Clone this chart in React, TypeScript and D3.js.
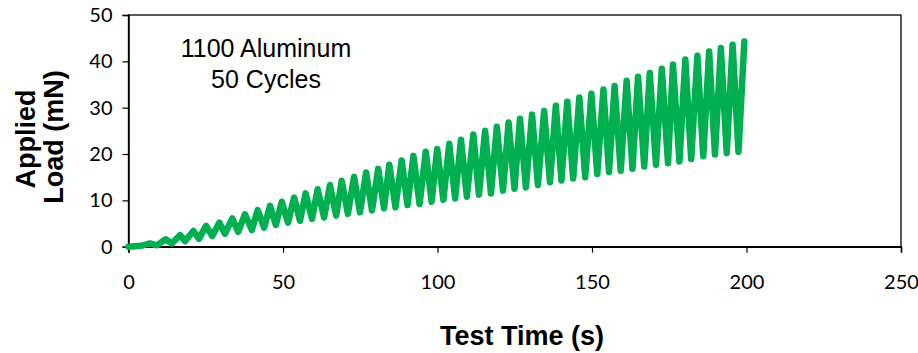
import { useRef, useEffect } from 'react';
import * as d3 from 'd3';

// lead-in before the first cycle
const leadTime = [0, 4.0];
const leadLoad = [0, 0.2];

// cycle peaks (s, mN)
const peakTime = [6.9, 12.0, 16.7, 21.0, 25.1, 29.4, 33.6, 37.7, 41.8, 45.8, 49.6, 53.6, 57.3, 61.2, 65.2, 69.0, 73.0, 76.9, 80.8, 84.4,
  88.4, 92.2, 96.2, 99.9, 103.8, 107.6, 111.6, 115.4, 119.2, 123.0, 126.7, 130.6, 134.5, 138.3, 142.0, 145.9, 149.8, 153.7, 157.3, 161.2,
  164.9, 168.7, 172.6, 176.2, 180.2, 184.1, 187.9, 191.7, 195.5, 199.3];
const peakLoad = [0.7, 1.6, 2.5, 3.4, 4.5, 5.2, 6.1, 7.0, 7.9, 8.8, 9.7, 10.6, 11.5, 12.4, 13.3, 14.2, 15.1, 16.0, 16.8, 17.7,
  18.6, 19.6, 20.5, 21.1, 22.2, 23.1, 24.2, 25.0, 25.9, 26.8, 27.6, 28.5, 29.3, 30.4, 31.3, 32.2, 33.0, 33.9, 34.7, 35.8,
  36.7, 37.5, 38.4, 39.3, 40.4, 41.2, 42.1, 42.9, 43.6, 44.3];

// unload troughs between peaks
const troughTime = [9.2, 14.0, 18.3, 22.8, 27.1, 31.2, 35.5, 39.9, 43.9, 47.7, 51.6, 55.5, 59.4, 63.3, 67.2, 71.0, 74.9, 78.8, 82.7, 86.4,
  90.3, 94.2, 98.1, 101.9, 105.7, 109.5, 113.4, 117.3, 121.2, 124.9, 128.6, 132.5, 136.4, 140.1, 143.9, 147.8, 151.7, 155.5, 159.3, 163.1,
  166.9, 170.7, 174.6, 178.3, 182.1, 186.0, 189.8, 193.6, 197.4];
const troughLoad = [0.3, 0.7, 1.2, 1.7, 2.3, 2.8, 3.2, 3.6, 4.1, 4.7, 5.2, 5.6, 6.0, 6.3, 6.7, 7.1, 7.4, 7.8, 8.3, 8.5,
  9.0, 9.2, 9.7, 10.1, 10.4, 10.8, 11.2, 11.5, 12.1, 12.5, 12.8, 13.3, 13.9, 14.3, 14.7, 15.0, 15.7, 16.1, 16.4, 16.8,
  17.3, 17.7, 18.0, 18.4, 18.9, 19.5, 19.9, 20.2, 20.5];

const xTicks = [0, 50, 100, 150, 200, 250];
const yTicks = [0, 10, 20, 30, 40, 50];

export default function App() {
  const svgRef = useRef<SVGSVGElement>(null);
  const width = 918;
  const height = 353;

  useEffect(() => {
    if (!svgRef.current) return;
    const svg = d3.select(svgRef.current);
    svg.selectAll('*').remove();

    const x = d3.scaleLinear().domain([0, 250]).range([128.5, 901]);
    const y = d3.scaleLinear().domain([0, 50]).range([246.7, 15]);
    const tickFont = "Lato, 'Open Sans', sans-serif";
    const titleFont = "'Liberation Sans', Arial, sans-serif";

    const pts: [number, number][] = leadTime.map((t, i) => [t, leadLoad[i]] as [number, number]);
    peakTime.forEach((t, i) => {
      pts.push([t, peakLoad[i]]);
      if (i < troughTime.length) pts.push([troughTime[i], troughLoad[i]]);
    });

    // Frame
    svg.append('rect')
      .attr('x', x(0)).attr('y', y(50))
      .attr('width', x(250) - x(0)).attr('height', y(0) - y(50))
      .attr('fill', 'none').attr('stroke', '#000').attr('stroke-width', 1.3);

    // X axis
    const gx = svg.append('g').attr('transform', 'translate(0,' + y(0) + ')')
      .call(d3.axisBottom(x).tickValues(xTicks).tickSize(6).tickPadding(22).tickFormat(d3.format('d')));
    gx.select('.domain').attr('stroke', '#000').attr('stroke-width', 1.5);
    gx.selectAll('.tick line').attr('stroke', '#000').attr('stroke-width', 1.2);
    gx.selectAll('.tick text').attr('font-family', tickFont).attr('font-size', 20).attr('fill', '#000');

    // Y axis
    const gy = svg.append('g').attr('transform', 'translate(' + x(0) + ',0)')
      .call(d3.axisLeft(y).tickValues(yTicks).tickSize(6).tickPadding(10).tickFormat(d3.format('d')));
    gy.select('.domain').attr('stroke', '#000').attr('stroke-width', 1.5);
    gy.selectAll('.tick line').attr('stroke', '#000').attr('stroke-width', 1.2);
    gy.selectAll('.tick text').attr('font-family', tickFont).attr('font-size', 20).attr('fill', '#000');

    // Load trace
    const line = d3.line<[number, number]>().x((d) => x(d[0])).y((d) => y(d[1]));
    svg.append('path')
      .datum(pts)
      .attr('d', line)
      .attr('fill', 'none')
      .attr('stroke', '#00B050')
      .attr('stroke-width', 6.5)
      .attr('stroke-linejoin', 'round')
      .attr('stroke-linecap', 'round');

    // Annotation
    const note = svg.append('text').attr('font-family', titleFont).attr('font-size', 25).attr('fill', '#000').attr('text-anchor', 'middle');
    note.append('tspan').attr('x', 266).attr('y', 57).text('1100 Aluminum');
    note.append('tspan').attr('x', 266).attr('y', 88).text('50 Cycles');

    // Axis titles
    svg.append('text')
      .attr('x', 522).attr('y', 345)
      .attr('text-anchor', 'middle')
      .attr('font-family', titleFont).attr('font-size', 27).attr('font-weight', 'bold')
      .text('Test Time (s)');

    svg.append('text')
      .attr('transform', 'translate(35,139) rotate(-90)')
      .attr('text-anchor', 'middle')
      .attr('font-family', titleFont).attr('font-size', 27).attr('font-weight', 'bold')
      .text('Applied');
    svg.append('text')
      .attr('transform', 'translate(63,137) rotate(-90)')
      .attr('text-anchor', 'middle')
      .attr('font-family', titleFont).attr('font-size', 27).attr('font-weight', 'bold')
      .text('Load (mN)');
  }, []);

  return (
    <div style={{ position: 'absolute', left: 0, top: 0, background: '#fff' }}>
      <svg ref={svgRef} width={width} height={height} viewBox={'0 0 ' + width + ' ' + height} style={{ display: 'block' }} />
    </div>
  );
}
